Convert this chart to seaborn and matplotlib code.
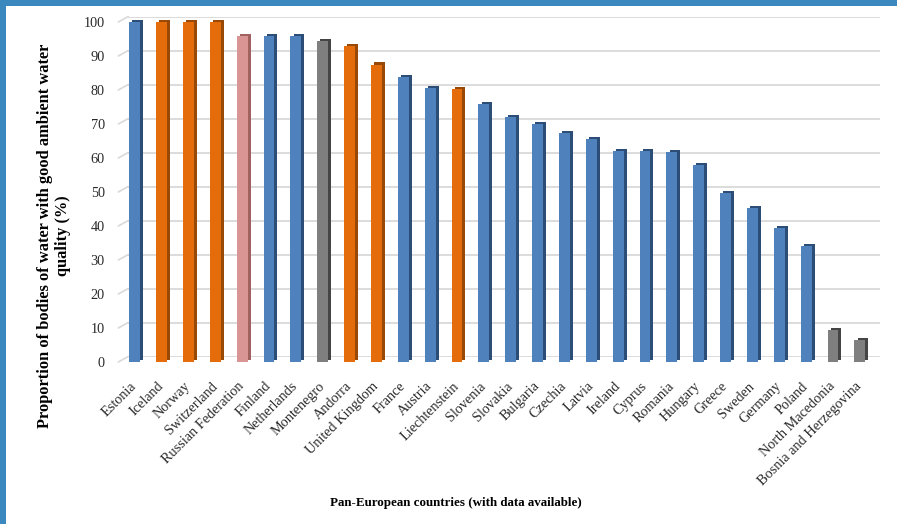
import matplotlib
matplotlib.use("Agg")
import matplotlib.pyplot as plt
from matplotlib import patheffects as pe
from matplotlib.colors import to_hex
from matplotlib.lines import Line2D
from matplotlib.patches import Rectangle
import seaborn as sns
import pandas as pd

countries = [
    "Estonia", "Iceland", "Norway", "Switzerland", "Russian Federation",
    "Finland", "Netherlands", "Montenegro", "Andorra", "United Kingdom",
    "France", "Austria", "Liechtenstein", "Slovenia", "Slovakia", "Bulgaria",
    "Czechia", "Latvia", "Ireland", "Cyprus", "Romania", "Hungary", "Greece",
    "Sweden", "Germany", "Poland", "North Macedonia", "Bosnia and Herzegovina",
]
values = [
    100, 100, 100, 100, 96, 96, 96, 94.3, 93, 87.5,
    83.8, 80.7, 80.2, 76, 72, 70, 67.3, 65.7, 62, 62,
    61.7, 58, 49.6, 45.3, 39.3, 34, 9.3, 6.4,
]
groups = [
    "A", "B", "B", "B", "C", "A", "A", "D", "B", "B",
    "A", "A", "B", "A", "A", "A", "A", "A", "A", "A",
    "A", "A", "A", "A", "A", "A", "D", "D",
]
yticks = list(range(0, 101, 10))

face = {"A": "#4f81bd", "B": "#e46c0a", "C": "#d99594", "D": "#7f7f7f"}
side = {"A": "#2c4d75", "B": "#984807", "C": "#a0615f", "D": "#454545"}
side_by_face = {face[k]: side[k] for k in face}
grid_color = "#d9d9d9"

df = pd.DataFrame({"country": countries, "value": values, "group": groups})

sns.set_theme(style="white")
plt.rcParams["font.family"] = ["Liberation Serif", "DejaVu Serif"]

W, H = 897, 524
fig = plt.figure(figsize=(W / 100, H / 100), dpi=100)

# framed backdrop: blue edge with a white panel
fig.patches.append(Rectangle((0, 0), 1, 1, transform=fig.transFigure,
                             facecolor="#3a88bd", edgecolor="none", zorder=-10))
fig.patches.append(Rectangle((6 / W, 0), 1, 1 - 6 / H, transform=fig.transFigure,
                             facecolor="white", edgecolor="none", zorder=-9))

# front plane (bars) and back wall (gridlines), offset for a 3-D look
left_px, right_px = 121.3, 880
bottom_px, top_px = 362, 22
depth_x, depth_y = 7, 5.5

wall = fig.add_axes([(left_px + depth_x) / W, 1 - (bottom_px - depth_y) / H,
                     (right_px - left_px - depth_x) / W, (bottom_px - top_px) / H])
wall.set_ylim(0, 100)
wall.set_yticks(yticks)
wall.yaxis.grid(True, color=grid_color, linewidth=1.3)
wall.set_xticks([])
wall.tick_params(left=False, labelleft=False)
for s in wall.spines.values():
    s.set_visible(False)
wall.set_facecolor("none")

ax = fig.add_axes([left_px / W, 1 - bottom_px / H,
                   (right_px - left_px) / W, (bottom_px - top_px) / H])
ax.set_facecolor("none")

sns.barplot(data=df, x="country", y="value", hue="group", palette=face,
            dodge=False, width=0.40, legend=False, saturation=1, ax=ax,
            edgecolor="none")

# extruded side/top faces
for bar in ax.patches:
    dark = side_by_face.get(to_hex(bar.get_facecolor()), "#333333")
    bar.set_clip_on(False)
    bar.set_path_effects([
        pe.SimplePatchShadow(offset=(2.2, 1.5), shadow_rgbFace=dark, alpha=1),
        pe.Normal(),
    ])

ax.set_xlim(-0.5, 27.75)
ax.set_ylim(0, 100)
ax.set_yticks(yticks)
ax.set_yticklabels([str(t) for t in yticks])
for s in ax.spines.values():
    s.set_visible(False)

# slanted side-wall segments joining each tick to its gridline
fig.canvas.draw()
for t in yticks:
    _, yf = ax.transData.transform((0, t))
    _, yb = wall.transData.transform((0, t))
    fig.lines.append(Line2D([(left_px - 3) / W, (left_px + depth_x) / W],
                            [yf / H, yb / H], transform=fig.transFigure,
                            color=grid_color, linewidth=1.2, zorder=0))

ax.tick_params(axis="y", length=0, pad=12, labelsize=10.3, labelcolor="#2a2a2a")
ax.tick_params(axis="x", length=0, pad=16, labelsize=10.3, labelcolor="#2a2a2a")
for lab in ax.get_xticklabels():
    lab.set_rotation(45)
    lab.set_ha("right")
    lab.set_va("center")
    lab.set_rotation_mode("anchor")

ax.set_xlabel("Pan-European countries (with data available)",
              fontsize=9.4, fontweight="bold", color="black")
ax.xaxis.set_label_coords((456 - left_px) / (right_px - left_px),
                          (bottom_px - 497) / (bottom_px - top_px))
ax.set_ylabel("Proportion of bodies of water with good ambient water\nquality (%)",
              fontsize=11.8, fontweight="bold", color="black", linespacing=1.15)
ax.yaxis.label.set_va("center")
ax.yaxis.set_label_coords((54 - left_px) / (right_px - left_px),
                          (bottom_px - 236) / (bottom_px - top_px))

fig.savefig("out.png", dpi=100, facecolor="white")
